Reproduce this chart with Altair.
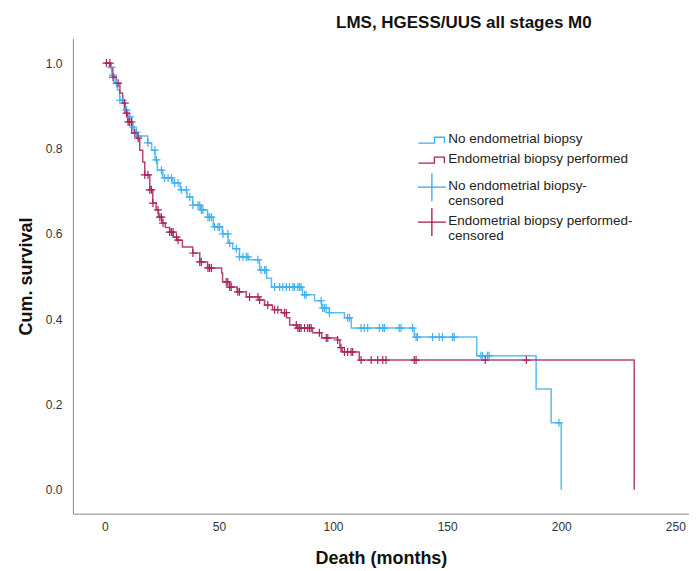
import altair as alt
import pandas as pd
import numpy as np

# ---- Data ----
groups = ["No endometrial biopsy", "Endometrial biopsy performed"]

blue_t = [0, 2, 3, 4, 5.5, 6.5, 8.5, 10, 11.8, 13, 14.4, 18.8, 20.5, 22, 23, 25.4, 29.8,
          33, 36, 38.5, 42, 45, 47.5, 51.5, 54, 56, 59, 63, 67.8, 70.9, 73, 86.6, 91.9,
          95, 98.4, 105, 108, 135.6, 163, 189, 195.6, 200]
blue_s = [1.0, 0.99, 0.972, 0.953, 0.937, 0.913, 0.89, 0.874, 0.85, 0.838, 0.829, 0.813,
          0.796, 0.773, 0.749, 0.731, 0.719, 0.703, 0.686, 0.667, 0.656, 0.639, 0.616, 0.6,
          0.578, 0.565, 0.546, 0.539, 0.515, 0.496, 0.475, 0.457, 0.443, 0.426, 0.415,
          0.403, 0.379, 0.358, 0.314, 0.236, 0.157, 0.0]

red_t = [0, 2.5, 3.5, 5, 6.6, 7.8, 8.8, 10, 11.8, 14, 15.3, 16.6, 17.5, 19.7, 21, 22.5,
         23.5, 25, 26.5, 28.4, 30, 31.5, 34, 38.5, 41.6, 45, 51.2, 51.6, 54.7, 58, 62,
         67.8, 70, 73.5, 77.4, 79.6, 81, 84, 91, 95, 102, 103, 104, 111.5, 232]
red_s = [1.0, 0.99, 0.967, 0.953, 0.93, 0.906, 0.883, 0.862, 0.836, 0.824, 0.796, 0.768,
         0.738, 0.703, 0.672, 0.656, 0.639, 0.625, 0.615, 0.604, 0.592, 0.585, 0.569,
         0.555, 0.534, 0.52, 0.508, 0.487, 0.475, 0.464, 0.452, 0.445, 0.433, 0.422,
         0.415, 0.403, 0.386, 0.379, 0.368, 0.356, 0.351, 0.333, 0.323, 0.304, 0.0]

blue_cens = [2.9, 3.6, 5.1, 6.6, 8, 9.5, 10.9, 12.4, 13.9, 14.6, 18.9, 21.9, 22.6, 24.8,
             26.2, 27.7, 29.2, 30.6, 32.1, 33.5, 35.7, 37.2, 38.6, 40.8, 41.6, 42.3, 43,
             45.2, 45.9, 46.7, 48.1, 49.6, 50.3, 51.8, 53.9, 54.7, 57.6, 59, 60.5, 62,
             62.7, 67.1, 68.5, 70, 70.7, 74.4, 76.6, 78, 79.5, 80.9, 82.4, 83.1, 84.6,
             85.3, 86, 87.5, 88.2, 94.8, 95.5, 96.2, 97, 98.4, 106.4, 107.2, 112.3, 113.7,
             115.2, 120.3, 121.8, 122.5, 129, 129.8, 134.9, 136.4, 137, 143.6, 146.5, 148,
             152.4, 153.1, 164.8, 165.5, 167.7, 168.4, 199]
red_cens = [0.7, 2.2, 3.6, 5.8, 8.7, 9.5, 10.2, 10.9, 11.7, 13.1, 14.6, 17.5, 18.9, 19.7,
            20.4, 21.1, 23.3, 24.1, 24.8, 25.5, 28.4, 29.2, 29.9, 31.4, 32.1, 38.6, 41.6,
            42.3, 45.2, 45.9, 46.7, 53.2, 53.9, 54.7, 55.4, 58.3, 59, 63.4, 67.1, 67.8,
            71.4, 74.4, 75.8, 78.7, 79.5, 83.9, 84.6, 85.3, 86, 87.5, 88.9, 89.7, 90.4, 94,
            97, 97.7, 102, 103.5, 105, 106.4, 107.9, 108.6, 112.3, 116.7, 119.6, 121.8,
            123.2, 135.6, 136.4, 166.7, 184.7]

x_ticks = [0, 50, 100, 150, 200, 250]
y_ticks = [0.0, 0.2, 0.4, 0.6, 0.8, 1.0]

colors_line = ["#3FB0F2", "#A8245C"]
colors_cens = ["#2FA8F0", "#9E1A52"]


def lookup(times, surv, t):
    i = int(np.searchsorted(np.array(times), t, side="right")) - 1
    return surv[max(i, 0)]


curve_rows = []
for g, ts, ss in [(groups[0], blue_t, blue_s), (groups[1], red_t, red_s)]:
    for i, (t, s) in enumerate(zip(ts, ss)):
        curve_rows.append({"group": g, "t": t, "s": s, "order": i})
curves = pd.DataFrame(curve_rows)

cens_rows = []
for g, ts, ss, cs in [(groups[0], blue_t, blue_s, blue_cens), (groups[1], red_t, red_s, red_cens)]:
    for c in cs:
        cens_rows.append({"group": g, "t": c, "s": lookup(ts, ss, c)})
cens = pd.DataFrame(cens_rows)

FONT = "Liberation Sans"
xscale = alt.Scale(domain=[-14, 256], nice=False, zero=False)
yscale = alt.Scale(domain=[-0.056, 1.058], nice=False, zero=False)

xaxis = alt.Axis(values=x_ticks, title="Death (months)", grid=False, ticks=False,
                 labelPadding=8, labelFontSize=12, labelColor="#333333", labelFont=FONT,
                 titleFont=FONT, titleFontSize=18, titleFontWeight="bold", titleColor="#111111",
                 titlePadding=17, domainColor="#888888", labelFlush=False)
yaxis = alt.Axis(values=y_ticks, format=".1f", title="Cum. survival", grid=False, ticks=False,
                 labelPadding=11, labelFontSize=12, labelColor="#333333", labelFont=FONT,
                 titleFont=FONT, titleFontSize=18, titleFontWeight="bold", titleColor="#111111",
                 titlePadding=10, domainColor="#888888", labelFlush=False)

lines = alt.Chart(curves).mark_line(interpolate="step-after", strokeWidth=1.5, opacity=0.85).encode(
    x=alt.X("t:Q", scale=xscale, axis=xaxis),
    y=alt.Y("s:Q", scale=yscale, axis=yaxis),
    color=alt.Color("group:N", scale=alt.Scale(domain=groups, range=colors_line), legend=None),
    detail="group:N",
    order=alt.Order("order:Q"),
)

PLUS = "M-1,0L1,0M0,-1L0,1"
marks = alt.Chart(cens).mark_point(shape=PLUS, size=64, filled=False, strokeWidth=1.2, opacity=1).encode(
    x=alt.X("t:Q", scale=xscale),
    y=alt.Y("s:Q", scale=yscale),
    color=alt.Color("group:N", scale=alt.Scale(domain=groups, range=colors_cens), legend=None),
)

# ---- manual legend (decoration) ----
dummy = pd.DataFrame({"a": [0]})
STEP = "M-1,0.22L0.19,0.22L0.19,-0.22L0.93,-0.22L0.93,0.22"
legend_layers = []
leg_items = [
    (STEP, colors_line[0], 729, 102, "No endometrial biopsy", 101),
    (STEP, colors_line[1], 729, 122, "Endometrial biopsy performed", 121),
    (PLUS, colors_cens[0], 784, 149, "No endometrial biopsy-\ncensored", 148),
    (PLUS, colors_cens[1], 784, 184, "Endometrial biopsy performed-\ncensored", 183),
]
for shp, col, sz, sy, txt, ty in leg_items:
    legend_layers.append(
        alt.Chart(dummy).mark_point(shape=shp, size=sz, filled=False, strokeWidth=1.3,
                                    color=col, opacity=1).encode(
            x=alt.value(359.5), y=alt.value(sy))
    )
    legend_layers.append(
        alt.Chart(dummy).mark_text(align="left", baseline="middle", lineBreak="\n",
                                   lineHeight=15, font=FONT, fontSize=13.5, color="#222222").encode(
            x=alt.value(376), y=alt.value(ty), text=alt.value(txt))
    )

chart = alt.layer(lines, marks, *legend_layers).properties(
    width=617, height=476,
    title=alt.TitleParams("LMS, HGESS/UUS all stages M0", font=FONT, fontSize=17,
                          fontWeight="bold", color="#111111", anchor="middle", dx=83, offset=6),
    autosize=alt.AutoSizeParams(type="none"),
    padding={"left": 65, "top": 30, "right": 0, "bottom": 55},
).configure_view(stroke=None).configure_axis(domainWidth=1)

chart.save("out.html", embed_options={"renderer": "svg", "actions": False})
